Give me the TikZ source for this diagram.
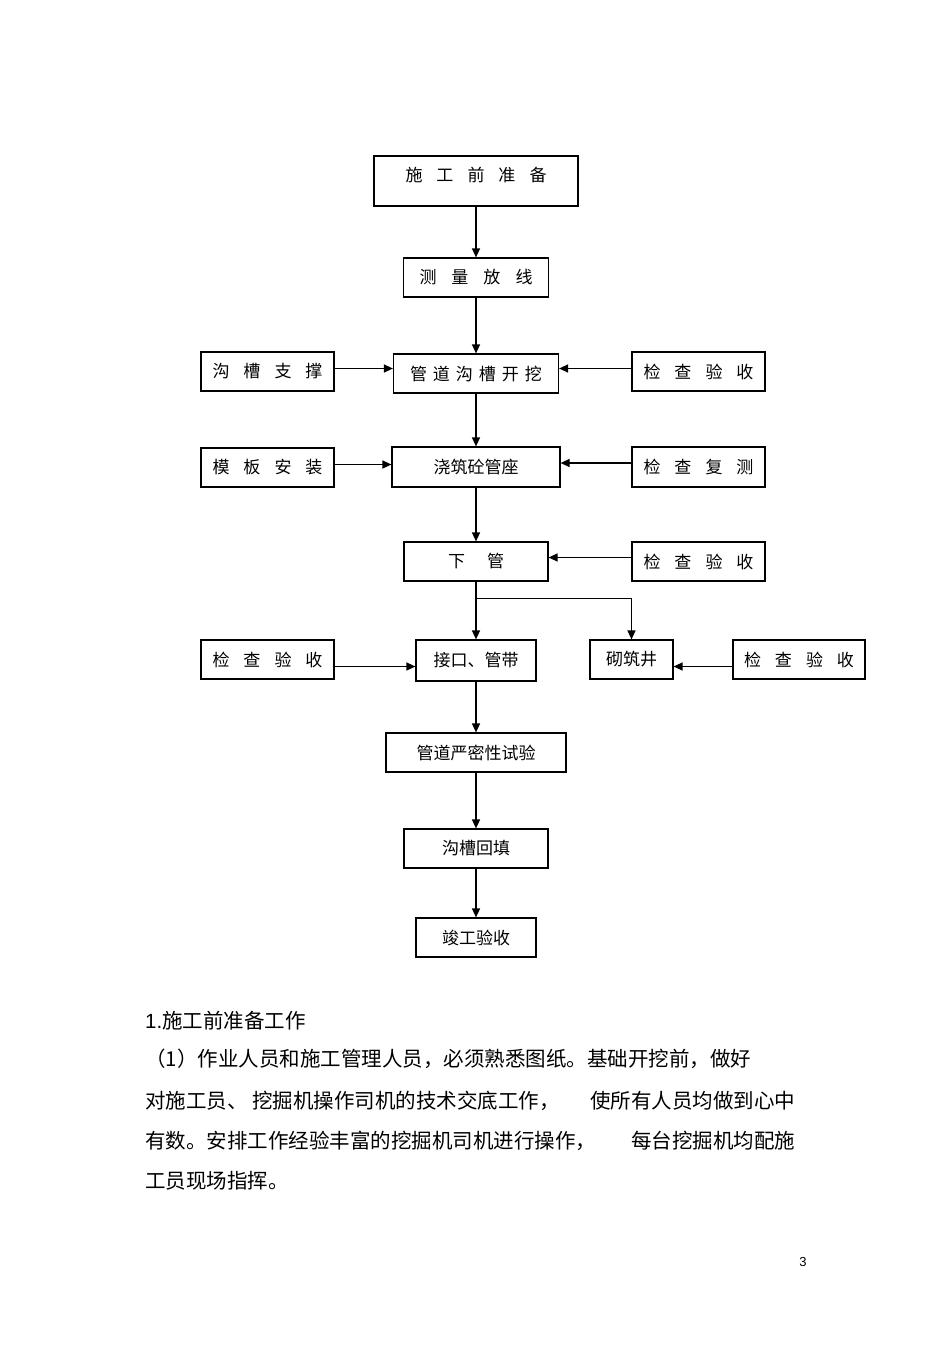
\documentclass[tikz,border=0pt]{standalone}
\usepackage{fontspec}
\usepackage{tikz}
\usetikzlibrary{arrows.meta,calc}
\newfontfamily\cjk{Noto Sans CJK SC}
\newfontfamily\numfont{Liberation Sans}

\begin{document}
\begin{tikzpicture}[x=1pt,y=-1pt,>={Triangle[length=9pt,width=8pt]},font=\cjk\fontsize{17}{20}\selectfont]

\tikzset{
b/.style={
    draw,
    line width=1.2pt,
    inner sep=0pt,
    minimum height=39pt
},
sp/.style={execute at begin node={\spaceskip=#1\relax}},
a/.style={->,line width=1.4pt},
t/.style={anchor=west,inner sep=0pt,font=\cjk\fontsize{20.5}{24}\selectfont}
}

\useasboundingbox (0,0) rectangle (950,1345);

% main column
\node[b,sp=14pt,minimum width=204pt,minimum height=50pt,text depth=14pt] (prep) at (476,181) {施 工 前 准 备};
\node[b,sp=15pt,minimum width=145pt] (survey) at (476,277.5) {测 量 放 线};
\node[b,sp=6pt,minimum width=165pt] (dig) at (476,373.5) {管 道 沟 槽 开 挖};
\node[b,minimum width=168pt,minimum height=40pt] (bed) at (476,467) {浇筑砼管座};
\node[b,sp=22pt,minimum width=144pt] (lay) at (476,561.5) {下 管};
\node[b,minimum width=120pt,minimum height=41pt] (joint) at (476,660.5) {接口、管带};
\node[b,minimum width=180pt] (test) at (476,752.5) {管道严密性试验};
\node[b,minimum width=144pt] (fill) at (476,848.5) {沟槽回填};
\node[b,minimum width=120pt] (accept) at (476,937.5) {竣工验收};

% side boxes
\node[b,sp=14pt,minimum width=133pt] (shore) at (267.5,371.5) {沟 槽 支 撑};
\node[b,sp=14pt,minimum width=133pt] (chkA) at (698.5,371.5) {检 查 验 收};
\node[b,sp=14pt,minimum width=133pt] (form) at (267.5,467.5) {模 板 安 装};
\node[b,sp=14pt,minimum width=133pt,minimum height=40pt] (recheck) at (698.5,467) {检 查 复 测};
\node[b,sp=14pt,minimum width=133pt] (chkB) at (698.5,561.5) {检 查 验 收};
\node[b,sp=14pt,minimum width=133pt] (chkC) at (267.5,659.5) {检 查 验 收};
\node[b,minimum width=83pt] (well) at (631.5,659.5) {砌筑井};
\node[b,sp=14pt,minimum width=132pt] (chkD) at (799,659.5) {检 查 验 收};

\draw[a] (prep) -- (survey);
\draw[a] (survey) -- (dig);
\draw[a] (dig) -- (bed);
\draw[a] (bed) -- (lay);
\draw[a] (lay) -- (joint);
\coordinate (fork) at ($(lay.south)!.29!(joint.north)$);
\draw[a] (fork) -| (well.north);
\draw[a] (joint) -- (test);
\draw[a] (test) -- (fill);
\draw[a] (fill) -- (accept);

\draw[a] ([yshift=3pt]shore.east) -- ([yshift=3pt]shore.east -| dig.west);
\draw[a] ([yshift=3pt]chkA.west) -- ([yshift=3pt]chkA.west -| dig.east);
\draw[a] ([yshift=3pt]form.east) -- ([yshift=3pt]form.east -| bed.west);
\draw[a] ([yshift=4pt]recheck.west) -- ([yshift=4pt]recheck.west -| bed.east);
\draw[a] ([yshift=4pt]chkB.west) -- ([yshift=4pt]chkB.west -| lay.east);
\draw[a] ([yshift=-7pt]chkC.east) -- ([yshift=-7pt]chkC.east -| joint.west);
\draw[a] ([yshift=-7pt]chkD.west) -- ([yshift=-7pt]chkD.west -| well.east);

% text below
\node[t] (head) at (145,1021) {{\numfont 1.}施工前准备工作};
\node[t] (line1) at (145,1059) {（1）作业人员和施工管理人员，必须熟悉图纸。基础开挖前，做好};
\node[t] (line2) at (145,1101) {\makebox[650pt][l]{对施工员、 挖掘机操作司机的技术交底工作，\hfill 使所有人员均做到心中}};
\node[t] (line3) at (145,1141) {\makebox[650pt][l]{有数。安排工作经验丰富的挖掘机司机进行操作，\hfill 每台挖掘机均配施}};
\node[t] (line4) at (145,1181) {工员现场指挥。};
\node[font=\numfont\fontsize{13}{15}\selectfont] (page) at (803,1262) {3};

\end{tikzpicture}
\end{document}
